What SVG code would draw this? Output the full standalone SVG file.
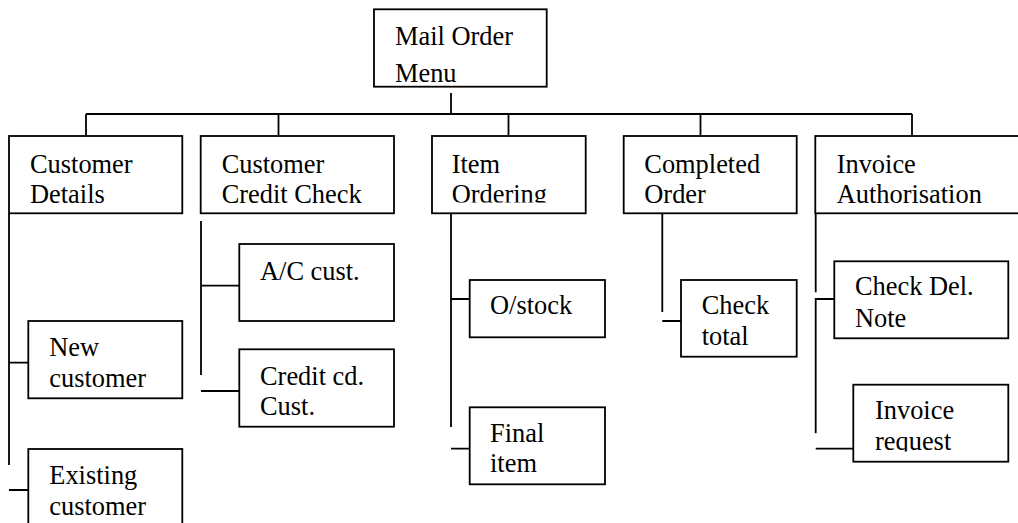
<svg xmlns="http://www.w3.org/2000/svg" width="1018" height="523" viewBox="0 0 1018 523">
<style>
.box{fill:#fff;stroke:#000;stroke-width:1.8}
.t{font-family:"Liberation Serif","Times New Roman",serif;font-size:26.4px;fill:#000}
.c{fill:none;stroke:#000;stroke-width:1.8}
</style>
<defs>
<clipPath id="clipItem"><rect x="432" y="136" width="154" height="66.5"/></clipPath>
<clipPath id="clipInv"><rect x="853" y="385" width="156" height="66.5"/></clipPath>
</defs>
<rect width="1018" height="523" fill="#fff"/>
<g id="connectors">
<path class="c" d="M451,93 V114 M86,114 H912 M86,114 V135 M278.5,114 V135 M508.5,114 V135 M700.5,114 V135 M912,114 V135"/>
<path class="c" d="M9,214 V465 M9,362.7 H28.3 M9,490 H28.3"/>
<path class="c" d="M201,221 V375 M201,285.7 H239.3 M201,391 H239.3"/>
<path class="c" d="M451,214 V427 M451,299 H469.7 M451,448.7 H469.7"/>
<path class="c" d="M662.3,214 V312 M662.3,321 H681"/>
<path class="c" d="M815.7,214 V292.3 M834.3,299 H815.7 V433.3 M815.7,448.7 H853.3"/>
</g>
<g id="mail-order-menu">
<rect class="box" x="374" y="9.3" width="172.7" height="77.4"/>
<text class="t" x="395" y="45">Mail Order</text>
<text class="t" x="395" y="82">Menu</text>
</g>
<g id="customer-details">
<rect class="box" x="9" y="136" width="173.3" height="77.3"/>
<text class="t" x="30" y="173">Customer</text>
<text class="t" x="30" y="203.3">Details</text>
</g>
<g id="customer-credit-check">
<rect class="box" x="200.7" y="136" width="193.3" height="77.3"/>
<text class="t" x="221.7" y="173">Customer</text>
<text class="t" x="221.7" y="203.3">Credit Check</text>
</g>
<g id="item-ordering">
<rect class="box" x="432" y="136" width="153.7" height="77.3"/>
<g clip-path="url(#clipItem)">
<text class="t" x="451.7" y="173">Item</text>
<text class="t" x="451.7" y="203.3">Ordering</text>
</g>
</g>
<g id="completed-order">
<rect class="box" x="623.7" y="136" width="173" height="77.3"/>
<text class="t" x="644.3" y="173">Completed</text>
<text class="t" x="644.3" y="203.3">Order</text>
</g>
<g id="invoice-authorisation">
<rect class="box" x="815.3" y="136" width="220" height="77.3"/>
<text class="t" x="836.7" y="173">Invoice</text>
<text class="t" x="836.7" y="203.3">Authorisation</text>
</g>
<g id="new-customer">
<rect class="box" x="28.3" y="321" width="154" height="77.3"/>
<text class="t" x="49.3" y="355.5">New</text>
<text class="t" x="49.3" y="386.5">customer</text>
</g>
<g id="existing-customer">
<rect class="box" x="28.3" y="449" width="154" height="90"/>
<text class="t" x="49.3" y="484">Existing</text>
<text class="t" x="49.3" y="514.5">customer</text>
</g>
<g id="ac-cust">
<rect class="box" x="239.3" y="244" width="154.7" height="77"/>
<text class="t" x="260" y="280">A/C cust.</text>
</g>
<g id="credit-cd-cust">
<rect class="box" x="239.3" y="349.3" width="154.7" height="77.4"/>
<text class="t" x="260" y="385">Credit cd.</text>
<text class="t" x="260" y="415">Cust.</text>
</g>
<g id="o-stock">
<rect class="box" x="469.7" y="280" width="135.3" height="57.3"/>
<text class="t" x="490" y="314.3">O/stock</text>
</g>
<g id="final-item">
<rect class="box" x="469.7" y="407.3" width="135.3" height="77"/>
<text class="t" x="490" y="441.7">Final</text>
<text class="t" x="490" y="472">item</text>
</g>
<g id="check-total">
<rect class="box" x="681" y="280" width="115.7" height="76.7"/>
<text class="t" x="701.7" y="314.3">Check</text>
<text class="t" x="701.7" y="345">total</text>
</g>
<g id="check-del-note">
<rect class="box" x="834.3" y="261.3" width="174" height="77"/>
<text class="t" x="855" y="295">Check Del.</text>
<text class="t" x="855" y="326.5">Note</text>
</g>
<g id="invoice-request">
<rect class="box" x="853.3" y="384.7" width="155" height="77"/>
<g clip-path="url(#clipInv)">
<text class="t" x="875" y="419.3">Invoice</text>
<text class="t" x="875" y="450">request</text>
</g>
</g>
</svg>
